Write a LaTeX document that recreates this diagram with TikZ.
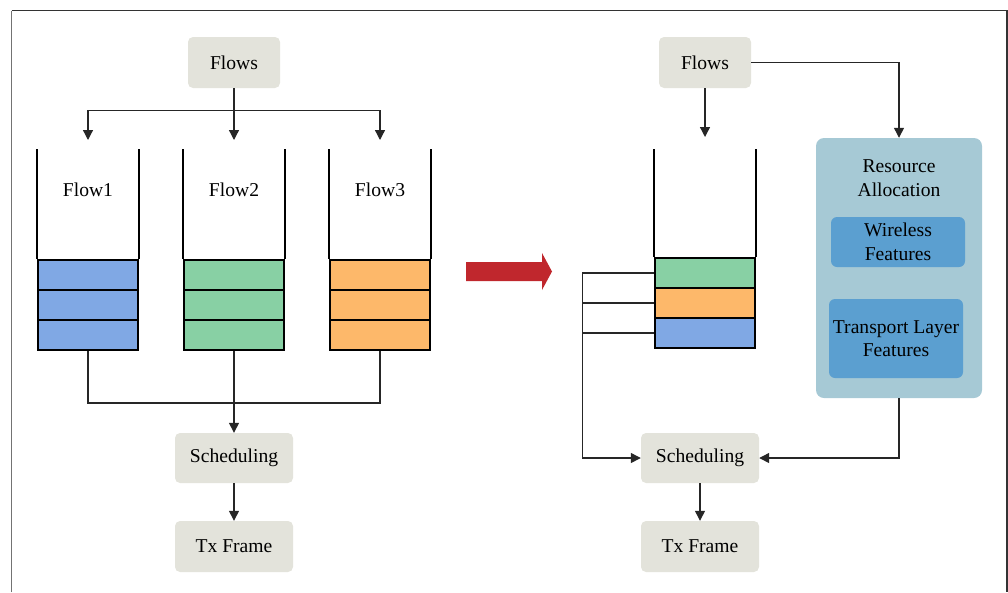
\documentclass[tikz,border=0pt]{standalone}
\usepackage{fontspec}
\setmainfont{Liberation Serif}
\usetikzlibrary{arrows.meta,calc}
\definecolor{boxgray}{HTML}{E3E3DB}
\definecolor{qblue}{HTML}{80A8E4}
\definecolor{qgreen}{HTML}{88D0A4}
\definecolor{qorange}{HTML}{FDB86A}
\definecolor{raback}{HTML}{A6C9D5}
\definecolor{rainner}{HTML}{5B9FD0}
\definecolor{bigred}{HTML}{C0272D}
\begin{document}
\begin{tikzpicture}[x=1pt,y=-1pt,
  every node/.style={font=\fontsize{19.6}{23.5}\selectfont, align=center, inner sep=0pt},
  gbox/.style={fill=boxgray, rounded corners=5pt, minimum width=92pt, minimum height=51pt},
  wbox/.style={fill=boxgray, rounded corners=5pt, minimum width=118pt, minimum height=50pt},
  cell/.style={draw=black, line width=1.7pt, minimum width=100pt, minimum height=30pt},
  wall/.style={line width=1.7pt},
  conn/.style={line width=1.3pt, draw=black!85},
  arr/.style={conn, -{Triangle[width=10pt,length=10pt]}}
]
\useasboundingbox (0,0) rectangle (1008,592);
\draw[line width=1.2pt, draw=black!55] (11.5,592) -- (11.5,10.5);
\draw[line width=1.2pt, draw=black!80] (11.5,10.5) -- (1007,10.5) -- (1007,592);

% ---------- left ----------
\node[gbox] (flowsL) at (234,62.5) {Flows};
\coordinate (brL) at (234,110.5);
\coordinate (q1in) at (88,140);
\coordinate (q2in) at (234,140);
\coordinate (q3in) at (380,140);
\draw[conn] (flowsL.south) -- (brL);
\draw[arr] (brL) -| (q1in);
\draw[arr] (brL) -- (q2in);
\draw[arr] (brL) -| (q3in);

\foreach \n/\x/\c in {1/88/qblue,2/234/qgreen,3/380/qorange}{
  \node[cell, fill=\c] (q\n a) at (\x,275) {};
  \node[cell, fill=\c] (q\n b) at (\x,305) {};
  \node[cell, fill=\c] (q\n c) at (\x,335) {};
  \draw[wall] (q\n a.north west) -- ++(0,-110);
  \draw[wall] (q\n a.north east) -- ++(0,-110);
  \node (lab\n) at (\x,190) {Flow\n};
}

\node[wbox] (schedL) at (234,458) {Scheduling};
\node[gbox, minimum width=118pt] (txL) at (234,546.5) {Tx Frame};
\coordinate (mg) at (234,403);
\draw[conn] (q1c.south) |- (mg) -| (q3c.south);
\draw[arr] (q2c.south) -- (schedL.north);
\draw[arr] (schedL.south) -- (txL.north);

% ---------- big arrow ----------
\fill[bigred] (466,262) -- (542,262) -- (542,253) -- (552,271.5) -- (542,290) -- (542,281) -- (466,281) -- cycle;

% ---------- right ----------
\node[gbox] (flowsR) at (705,62.5) {Flows};
\coordinate (rqin) at (705,137);
\draw[arr] (flowsR.south) -- (rqin);

\node[fill=raback, rounded corners=8pt, minimum width=166pt, minimum height=260pt] (ra) at (899,268) {};
\node (ralab) at (899,178) {Resource\\Allocation};
\node[fill=rainner, rounded corners=6pt, minimum width=134pt, minimum height=50pt] (wf) at (898,242) {Wireless\\Features};
\node[fill=rainner, rounded corners=6pt, minimum width=134pt, minimum height=79pt] (tl) at (896,338.5) {Transport Layer\\Features};
\draw[arr] (flowsR.east) -| (ra.north);

\node[cell, fill=qgreen] (rqa) at (705,273) {};
\node[cell, fill=qorange] (rqb) at (705,303) {};
\node[cell, fill=qblue] (rqc) at (705,333) {};
\draw[wall] (rqa.north west) -- ++(0,-108);
\draw[wall] (rqa.north east) -- ++(0,-108);

\node[wbox] (schedR) at (700,458) {Scheduling};
\node[gbox, minimum width=118pt] (txR) at (700,546.5) {Tx Frame};
\draw[conn] (rqa.west) -- ++(-72,0) coordinate (tj);
\draw[conn] (rqb.west) -- (rqb.west -| tj);
\draw[conn] (rqc.west) -- (rqc.west -| tj);
\draw[arr] (tj) |- (schedR.west);
\draw[arr] (ra.south) |- (schedR.east);
\draw[arr] (schedR.south) -- (txR.north);
\end{tikzpicture}
\end{document}
